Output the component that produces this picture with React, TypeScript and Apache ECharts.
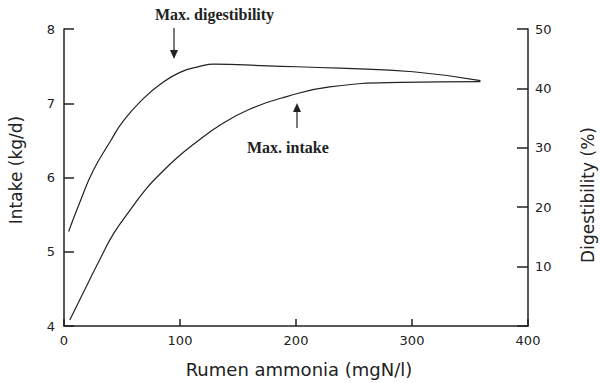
import React, { useEffect, useRef } from "react";
import * as echarts from "echarts";

// Rumen ammonia (mgN/l) sample positions for each curve
const ammoniaIntake = [5, 17, 31, 43, 57, 71, 83, 97, 112, 135, 160, 192, 229, 290, 359];
const intakeValues = [4.08, 4.46, 4.9, 5.25, 5.56, 5.85, 6.05, 6.26, 6.45, 6.71, 6.92, 7.09, 7.22, 7.28, 7.29];

const ammoniaDig = [4, 14, 25, 40, 51, 68, 83, 100, 117, 129, 175, 238, 301, 359];
const digestibilityValues = [15.9, 21.0, 26.1, 31.1, 34.5, 38.2, 40.7, 42.7, 43.7, 44.1, 43.8, 43.4, 42.8, 41.3];

const xTitle = "Rumen ammonia (mgN/l)";
const leftTitle = "Intake (kg/d)";
const rightTitle = "Digestibility (%)";
const annotDig = "Max. digestibility";
const annotIntake = "Max. intake";

const INK = "#222";
const SANS = "'DejaVu Sans', 'Liberation Sans', sans-serif";
const SERIF = "'Liberation Serif', 'DejaVu Serif', serif";

export default function App() {
  const ref = useRef<HTMLDivElement>(null);

  useEffect(() => {
    if (!ref.current) return;
    const chart = echarts.init(ref.current, undefined, { renderer: "svg" });
    const axisCommon = {
      axisLine: { show: true, lineStyle: { color: INK, width: 1.5 } },
      axisTick: { show: true, inside: true, lineStyle: { color: INK, width: 1.5 } },
      splitLine: { show: false },
      axisLabel: { color: INK, fontSize: 13, fontFamily: SANS },
    };
    chart.setOption({
      animation: false,
      backgroundColor: "#fff",
      grid: { left: 64, right: 72, top: 29, bottom: 57 },
      xAxis: {
        type: "value",
        min: 0,
        max: 400,
        interval: 100,
        ...axisCommon,
        axisTick: { show: true, inside: true, length: 7, lineStyle: { color: INK, width: 1.5 } },
        axisLabel: { ...axisCommon.axisLabel, margin: 8 },
      },
      yAxis: [
        {
          type: "value",
          position: "left",
          min: 4,
          max: 8,
          interval: 1,
          ...axisCommon,
          axisTick: { show: true, inside: true, length: 10, lineStyle: { color: INK, width: 1.5 } },
          axisLabel: { ...axisCommon.axisLabel, margin: 9 },
        },
        {
          type: "value",
          position: "right",
          min: 0,
          max: 50,
          interval: 10,
          ...axisCommon,
          axisTick: { show: true, inside: true, length: 11, lineStyle: { color: INK, width: 1.5 } },
          axisLabel: {
            ...axisCommon.axisLabel,
            margin: 7,
            formatter: (v: number) => (v === 0 ? "" : String(v)),
          },
        },
      ],
      series: [
        {
          name: "Intake",
          type: "line",
          yAxisIndex: 0,
          symbol: "none",
          smooth: 0.5,
          lineStyle: { color: INK, width: 1.2 },
          data: ammoniaIntake.map((x, i) => [x, intakeValues[i]]),
        },
        {
          name: "Digestibility",
          type: "line",
          yAxisIndex: 1,
          symbol: "none",
          smooth: 0.5,
          lineStyle: { color: INK, width: 1.2 },
          data: ammoniaDig.map((x, i) => [x, digestibilityValues[i]]),
        },
      ],
      graphic: [
        {
          type: "text",
          x: 16,
          y: 170,
          rotation: Math.PI / 2,
          style: {
            text: leftTitle,
            fill: INK,
            font: `17px ${SANS}`,
            textAlign: "center",
            textVerticalAlign: "middle",
          },
        },
        {
          type: "text",
          x: 588,
          y: 195,
          rotation: Math.PI / 2,
          style: {
            text: rightTitle,
            fill: INK,
            font: `17px ${SANS}`,
            textAlign: "center",
            textVerticalAlign: "middle",
          },
        },
        {
          type: "text",
          x: 299,
          y: 369,
          style: {
            text: xTitle,
            fill: INK,
            font: `18px ${SANS}`,
            textAlign: "center",
            textVerticalAlign: "middle",
          },
        },
        {
          type: "text",
          x: 155,
          y: 14,
          style: {
            text: annotDig,
            fill: INK,
            font: `bold 16px ${SERIF}`,
            textAlign: "left",
            textVerticalAlign: "middle",
          },
        },
        {
          type: "line",
          shape: { x1: 174, y1: 28, x2: 174, y2: 52 },
          style: { stroke: INK, lineWidth: 1.2 },
        },
        {
          type: "polygon",
          shape: { points: [[170, 50], [178, 50], [174, 59]] },
          style: { fill: INK },
        },
        {
          type: "text",
          x: 247,
          y: 147,
          style: {
            text: annotIntake,
            fill: INK,
            font: `bold 16px ${SERIF}`,
            textAlign: "left",
            textVerticalAlign: "middle",
          },
        },
        {
          type: "line",
          shape: { x1: 297, y1: 110, x2: 297, y2: 128 },
          style: { stroke: INK, lineWidth: 1.2 },
        },
        {
          type: "polygon",
          shape: { points: [[293, 112], [301, 112], [297, 103]] },
          style: { fill: INK },
        },
      ],
    });
    return () => chart.dispose();
  }, []);

  return (
    <div
      ref={ref}
      style={{ position: "fixed", left: 0, top: 0, width: 600, height: 383, background: "#fff" }}
    />
  );
}
